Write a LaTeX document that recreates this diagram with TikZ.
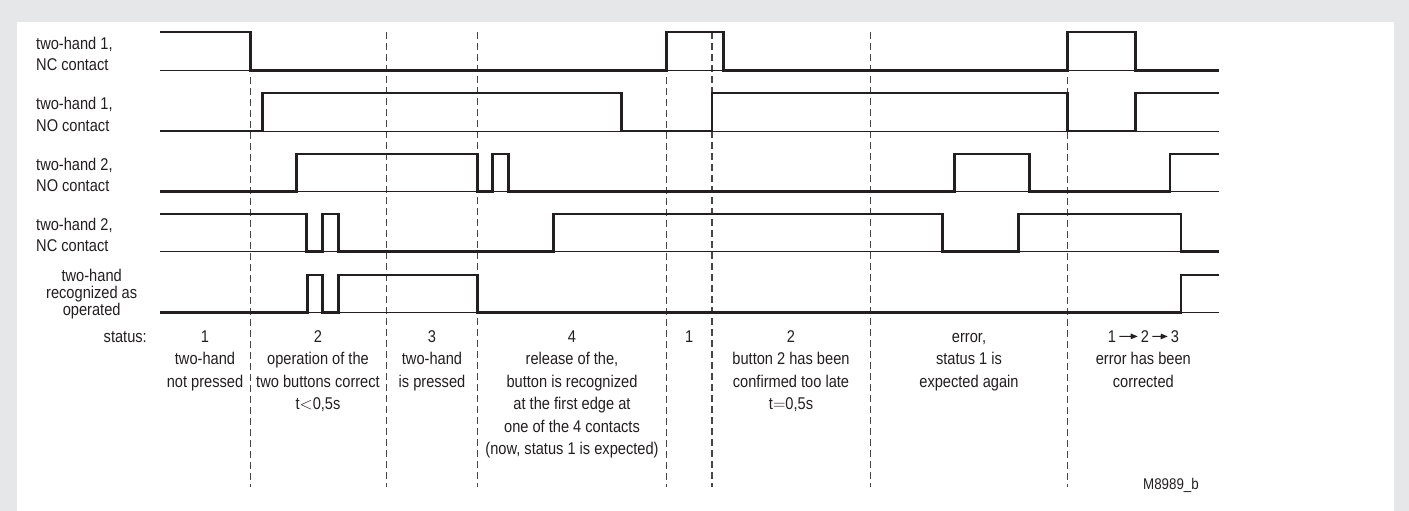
\documentclass[tikz,border=0pt]{standalone}
\usepackage{fontspec}
\setmainfont{Liberation Sans}[FakeStretch=0.86]
\usetikzlibrary{arrows.meta}
\definecolor{framegray}{RGB}{230,231,232}
\definecolor{ink}{RGB}{35,31,32}
\definecolor{dashgray}{RGB}{70,70,70}
\begin{document}
\begin{tikzpicture}[x=1pt,y=-1pt,
  sig/.style={line width=2.5pt, ink, line join=miter},
  baseln/.style={line width=1pt, ink},
  sep/.style={line width=1.1pt, dashgray, dash pattern=on 7pt off 4pt},
  lbl/.style={inner sep=0pt, text=ink, align=left, font=\fontsize{17}{21.3}\selectfont},
  stat/.style={inner sep=0pt, text=ink, align=center, anchor=base, font=\fontsize{17}{22.5}\selectfont},
  arr/.style={-{Triangle[length=7pt,width=5.5pt]}, line width=1pt, ink}]
% frame
\fill[framegray] (0,0) rectangle (1409,511);
\fill[white] (17,22) rectangle (1394,511);
\useasboundingbox (0,0) rectangle (1409,511);
% dashed separators
\draw[sep] (250.3,77) -- (250.3,487);
\draw[sep] (386.7,32) -- (386.7,487);
\draw[sep] (477.3,32) -- (477.3,487);
\draw[sep] (666.7,77) -- (666.7,487);
\draw[sep] (712,32) -- (712,487);
\draw[sep] (870.7,32) -- (870.7,487);
\draw[sep] (1067.3,77) -- (1067.3,487);
% baselines
\foreach \yl in {70.7,131,191.7,251.7,312.7}{\draw[baseln] (160,\yl) -- (1219,\yl);}
% signals
\draw[sig] (160,32) -| (250.3,70.7) -| (666.7,32) -| (723.3,70.7) -| (1067.3,32) -| (1135.7,70.7) -- (1219,70.7);
\draw[sig] (160,131) -| (262.7,93) -| (621.7,131) -| (712,93) -| (1067.3,131) -| (1135.7,93) -- (1219,93);
\draw[sig] (160,191.7) -| (296.7,154) -| (477.3,191.7) -| (492.3,154) -| (508.3,191.7) -| (954.3,154) -| (1029.3,191.7) -| (1170,154) -- (1219,154);
\draw[sig] (160,214) -| (306.7,251.7) -| (322.7,214) -| (338.3,251.7) -| (553.3,214) -| (942.7,251.7) -| (1018.3,214) -| (1181,251.7) -- (1219,251.7);
\draw[sig] (160,312.7) -| (307.3,275) -| (322.7,312.7) -| (338.3,275) -| (477.3,312.7) -| (1181,275) -- (1219,275);
% row labels (anchor base = baseline of last line)
\node[lbl, anchor=base west] (l1) at (36,70.6) {two-hand 1,\\NC contact};
\node[lbl, anchor=base west] (l2) at (36,131.2) {two-hand 1,\\NO contact};
\node[lbl, anchor=base west] (l3) at (36,191.6) {two-hand 2,\\NO contact};
\node[lbl, anchor=base west] (l4) at (36,251.6) {two-hand 2,\\NC contact};
\node[lbl, anchor=base, align=center, font=\fontsize{17}{17}\selectfont] (l5) at (91.7,315.7) {two-hand\\recognized as\\operated};
% status
\node[lbl, anchor=base east] (st) at (147,342.3) {status:};
\node[stat] (s1) at (205,387.3) {1\\two-hand\\not pressed};
\node[stat] (s2) at (318,409.8) {2\\operation of the\\two buttons correct\\t$<$0,5s};
\node[stat] (s3) at (432,387.3) {3\\two-hand\\is pressed};
\node[stat] (s4) at (572,454.8) {4\\release of the,\\button is recognized\\at the first edge at\\one of the 4 contacts\\(now, status 1 is expected)};
\node[stat] (s5) at (689.3,342.3) {1};
\node[stat] (s6) at (791,409.8) {2\\button 2 has been\\confirmed too late\\t$=$0,5s};
\node[stat] (s7) at (969,387.3) {error,\\status 1 is\\expected again};
\node[stat] (s8) at (1143.3,387.3) {error has been\\corrected};
\node[stat, inner sep=3pt] (d1) at (1112,342.3) {1};
\node[stat, inner sep=3pt] (d2) at (1145,342.3) {2};
\node[stat, inner sep=3pt] (d3) at (1175,342.3) {3};
\draw[arr] (d1) -- (d2);
\draw[arr] (d2) -- (d3);
\node[inner sep=0pt, anchor=base west, text=ink, font=\fontsize{15.5}{18}\selectfont] (code) at (1143,489) {M8989\_b};
\end{tikzpicture}
\end{document}
